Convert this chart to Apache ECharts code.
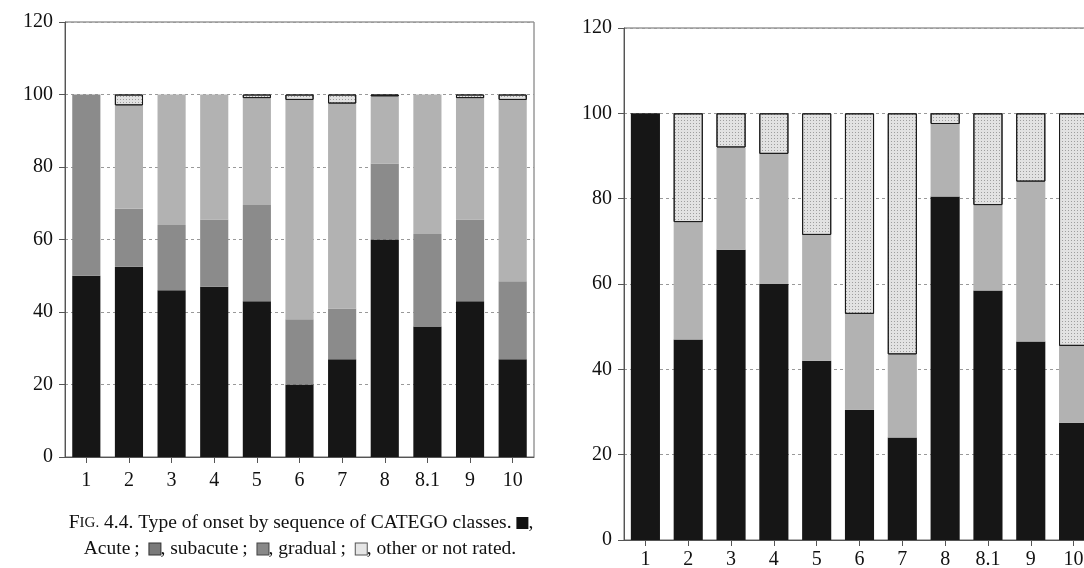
<!DOCTYPE html>
<html>
<head>
<meta charset="utf-8">
<script src="https://cdn.jsdelivr.net/npm/echarts@6/dist/echarts.min.js"></script>
<style>
  html, body { margin: 0; padding: 0; background: #fff; }
  #chart { width: 1084px; height: 568px; }
</style>
</head>
<body>
<div id="chart"></div>
<script>
// CATEGO classes on the category axis of both panels
const categories = ['1', '2', '3', '4', '5', '6', '7', '8', '8.1', '9', '10'];
const yTicks = [0, 20, 40, 60, 80, 100, 120];

// Left panel: type of onset, percent of each class
const acuteLeft    = [50, 52.5, 46, 47, 43, 20, 27, 60, 36, 43, 27];
const subacuteLeft = [50, 16, 18, 18.5, 26.5, 18, 14, 21, 25.5, 22.5, 21.5];
const gradualLeft  = [0, 28.5, 36, 34.5, 29.5, 60.5, 56.5, 18.5, 38.5, 33.5, 50];
const otherLeft    = [0, 3, 0, 0, 1, 1.5, 2.5, 0.5, 0, 1, 1.5];

// Right panel: three-way split, percent of each class
const acuteRight   = [100, 47, 68, 60, 42, 30.5, 24, 80.5, 58.5, 46.5, 27.5];
const middleRight  = [0, 27.5, 24, 30.5, 29.5, 22.5, 19.5, 17, 20, 37.5, 18];
const otherRight   = [0, 25.5, 8, 9.5, 28.5, 47, 56.5, 2.5, 21.5, 16, 54.5];

const SERIF = '"Liberation Serif", "DejaVu Serif", serif';
const BLACK = '#161616';
const DARK_GREY = '#8b8b8b';
const LIGHT_GREY = '#b2b2b2';
const STIPPLE = '#e2e2e2';

const stippleDecal = {
  symbol: 'rect',
  symbolSize: 1,
  dashArrayX: [1, 2],
  dashArrayY: [1, 2],
  color: 'rgba(0,0,0,0.3)',
  rotation: 0
};

function yAxis(gridIndex) {
  return {
    type: 'value', gridIndex, min: 0, max: 120, interval: 20,
    axisLine: { show: true, lineStyle: { color: '#555', width: 1 } },
    axisTick: { show: true, length: 6, lineStyle: { color: '#555' } },
    axisLabel: {
      margin: 12, color: '#111', fontFamily: SERIF, fontSize: 20,
      formatter: v => (yTicks.indexOf(v) >= 0 ? String(v) : '')
    },
    splitLine: {
      show: true,
      lineStyle: { color: '#999', width: 1, type: [3, 3] }
    }
  };
}

function xAxis(gridIndex, margin) {
  return {
    type: 'category', gridIndex, data: categories,
    axisLine: { show: true, lineStyle: { color: '#555', width: 1 } },
    axisTick: { show: true, alignWithLabel: true, length: 6, lineStyle: { color: '#555' } },
    axisLabel: { margin, color: '#111', fontFamily: SERIF, fontSize: 20 },
    splitLine: { show: false }
  };
}

// empty segments are left out so no outline is drawn for them
function bar(name, values, axis, stack, color, width, stipple) {
  const s = {
    name, type: 'bar', stack,
    data: values.map(v => (v === 0 ? '-' : v)),
    xAxisIndex: axis, yAxisIndex: axis,
    barWidth: width,
    itemStyle: { color },
    emphasis: { disabled: true },
    animation: false
  };
  if (stipple) {
    s.itemStyle.borderColor = '#1a1a1a';
    s.itemStyle.borderWidth = 1;
    s.itemStyle.decal = stippleDecal;
  }
  return s;
}

const chart = echarts.init(document.getElementById('chart'), null, { renderer: 'canvas' });

const textBase = { fontFamily: SERIF, fontSize: 19.5, fill: '#111' };

chart.setOption({
  animation: false,
  backgroundColor: '#fff',
  grid: [
    { left: 65, top: 22, width: 469, height: 435, show: true, borderColor: '#666', borderWidth: 1, outerBoundsMode: 'none', containLabel: false },
    { left: 624, top: 28, width: 471, height: 512, show: true, borderColor: '#666', borderWidth: 1, outerBoundsMode: 'none', containLabel: false }
  ],
  xAxis: [xAxis(0, 14), xAxis(1, 10)],
  yAxis: [yAxis(0), yAxis(1)],
  series: [
    bar('Acute', acuteLeft, 0, 'left', BLACK, '66%'),
    bar('Subacute', subacuteLeft, 0, 'left', DARK_GREY, '66%'),
    bar('Gradual', gradualLeft, 0, 'left', LIGHT_GREY, '66%'),
    bar('Other or not rated', otherLeft, 0, 'left', STIPPLE, '66%', true),
    bar('Acute', acuteRight, 1, 'right', BLACK, '68%'),
    bar('Gradual', middleRight, 1, 'right', LIGHT_GREY, '68%'),
    bar('Other or not rated', otherRight, 1, 'right', STIPPLE, '68%', true)
  ],
  graphic: [
    {
      type: 'text',
      style: {
        x: 301, y: 523, textAlign: 'center', textVerticalAlign: 'middle', fill: '#111',
        text: '{n|F}{sc|IG.}{n| 4.4. Type of onset by sequence of CATEGO classes. }{a|}{n|,}',
        rich: {
          n: textBase,
          sc: { fontFamily: SERIF, fontSize: 15, fill: '#111' },
          a: { width: 12, height: 12, backgroundColor: '#111' }
        }
      }
    },
    {
      type: 'text',
      style: {
        x: 300, y: 549, textAlign: 'center', textVerticalAlign: 'middle', fill: '#111',
        text: '{n|Acute\u2009;\u2002}{s|}{n|, subacute\u2009;\u2002}{g|}{n|, gradual\u2009;\u2002}{o|}{n|, other or not rated.}',
        rich: {
          n: textBase,
          s: { width: 11, height: 11, backgroundColor: '#7a7a7a', borderColor: '#333', borderWidth: 1 },
          g: { width: 11, height: 11, backgroundColor: '#888', borderColor: '#444', borderWidth: 1 },
          o: { width: 11, height: 11, backgroundColor: '#e6e6e6', borderColor: '#555', borderWidth: 1 }
        }
      }
    }
  ]
});
</script>
</body>
</html>
